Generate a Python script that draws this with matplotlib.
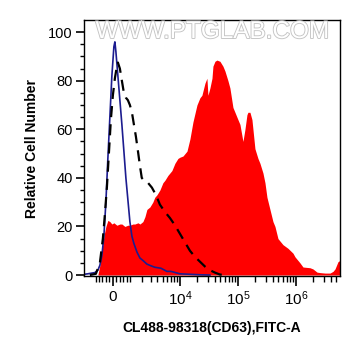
import numpy as np
import matplotlib
matplotlib.use("Agg")
import matplotlib.pyplot as plt
import matplotlib.patheffects as pe

plt.rcParams['font.family'] = ['Liberation Sans', 'DejaVu Sans']
plt.rcParams['mathtext.fontset'] = 'custom'
plt.rcParams['mathtext.rm'] = 'Liberation Sans'
plt.rcParams['mathtext.it'] = 'Liberation Sans'

# ---- data (fluorescence intensity, relative cell number) ----
red_x = [-887, -757, -633, -512, -395, -281, -168, -56, 56, 224, 395, 512, 694, 886,
         1021, 1238, 1390, 1639, 1813, 2098, 2307, 2526, 2885, 3280, 3570, 3905, 4428,
         5014, 5441, 6153, 6675, 7234, 8171, 9224, 9990, 11300, 13250, 14900, 16800,
         19700, 22200, 24000, 27100, 29300, 30500, 33000, 35800, 37200, 40300, 43600,
         49100, 55300, 59900, 67500, 73000, 82300, 89100, 100300, 108700, 122400,
         132500, 143400, 149200, 161600, 174900, 197000, 222000, 240300, 270800,
         293200, 317400, 357500, 402700, 436000, 491200, 598900, 730100, 890800,
         964500, 1175900, 1324700, 1749400, 1970500, 2309600, 2602300, 3173700,
         3870100, 4360100, 4720200, 5316900, 5756400]
red_y = [0, 4, 10, 16, 20, 22.5, 22, 21, 21.5, 20.5, 21, 21, 20, 20.5,
         20.5, 21, 21, 21.5, 21, 22, 24, 27, 28, 30, 32, 33, 35,
         38, 39, 41, 42, 43, 46, 48, 48.5, 49, 51, 56, 63,
         70, 73, 74, 79, 81, 74, 77, 81, 86, 88, 88.5,
         88, 86, 84, 80, 77, 69, 67, 64, 62, 55,
         60, 66, 67, 67, 64, 52, 48, 46, 42,
         38, 32, 27, 22, 20, 15, 12.5, 11, 9,
         7.5, 5, 3.3, 3, 2.5, 1.2, 1, 0.8,
         0.8, 1.5, 2.5, 5.5, 6]

blue_x = [-1985, -1639, -1311, -1091, -887, -757, -633, -512, -395, -281, -168, -56,
          56, 112, 168, 281, 395, 512, 633, 757, 886, 1021, 1163, 1311, 1551, 1813,
          2098, 2526, 3019, 3570, 4617, 5908, 6950, 9990, 14900, 22200, 33000]
blue_y = [0.3, 0.5, 0.8, 1, 2, 4, 8, 16, 30, 48, 65, 82,
          94, 96, 92, 82, 72, 62, 51, 40, 31, 22, 16, 13, 9.5, 7,
          6, 4.5, 3.8, 3.2, 2.8, 1.5, 1.5, 0.5, 0.3, 0.1, 0]

dash_x = [-1469, -1021, -757, -572, -453, -337, -224, -112, 0, 112, 224, 281, 395,
          512, 633, 757, 886, 1021, 1163, 1311, 1469, 1639, 1813, 1985, 2307, 2642,
          3151, 3742, 4428, 5441, 6675, 8171, 9990, 12200, 14900, 18200, 22200,
          27100, 33000, 40300, 49100, 59900]
dash_y = [0, 0.5, 5, 15, 25, 36, 50, 64, 74, 81, 86, 87.5, 85,
          80, 75, 73, 72, 70, 67, 62, 57, 51, 45, 40, 38.5, 38,
          36, 33, 29, 26, 23.5, 20.5, 17, 13.5, 10, 7.5, 5.5,
          3.5, 2, 1, 0.2, 0]

major_ticks = [0, 1e4, 1e5, 1e6]
major_labels = ['0', r'$10^4$', r'$10^5$', r'$10^6$']

# ---- biexponential-like axis ----
C = 1404.0
def fwd(x):
    return np.arcsinh(np.asarray(x, float) / C) / np.log(10)
def inv(y):
    return C * np.sinh(np.asarray(y, float) * np.log(10))

fig = plt.figure(figsize=(3.61, 3.56), dpi=100)
ax = fig.add_axes([84/361, 80/356, 256/361, 256/356])
ax.set_xscale('function', functions=(fwd, inv))

ax.fill_between(red_x, red_y, 0, color='#ff0000', linewidth=0, zorder=1)
ax.plot(blue_x, blue_y, color='#1c1c8f', linewidth=1.2, zorder=2)
ax.plot(dash_x, dash_y, color='black', linewidth=1.6, dashes=(5, 3.2), zorder=3)

ax.set_xlim(-1985, 5756400)
ax.set_ylim(-0.4, 105)

minor = list(range(-1000, 1001, 200))
for dec in [1e3, 1e4, 1e5, 1e6]:
    for m in range(2, 10):
        v = m * dec
        if v < 5.7e6:
            minor.append(v)
ax.set_xticks(major_ticks)
ax.set_xticklabels(major_labels)
ax.set_xticks(minor, minor=True)
ax.set_yticks([0, 20, 40, 60, 80, 100])
ax.set_yticks(np.arange(0, 101, 5), minor=True)

ax.tick_params(axis='x', which='major', length=7, width=1.2, labelsize=11, pad=3)
ax.tick_params(axis='x', which='minor', length=4, width=1.0)
ax.tick_params(axis='y', which='major', length=6, width=1.2, labelsize=10.5, pad=2)
ax.tick_params(axis='y', which='minor', length=3, width=1.0)
for s in ax.spines.values():
    s.set_linewidth(1.0)

ax.set_xlabel('CL488-98318(CD63),FITC-A', fontsize=10, fontweight='bold', labelpad=9)
ax.set_ylabel('Relative Cell Number', fontsize=10, fontweight='bold', labelpad=7)

ax.text(0.5, 0.953, 'WWW.PTGLAB.COM', transform=ax.transAxes, ha='center', va='center',
        fontsize=17.5, color='white', zorder=5,
        path_effects=[pe.withStroke(linewidth=1.3, foreground='#c4c4c4')])

fig.savefig('out.png', dpi=100)
